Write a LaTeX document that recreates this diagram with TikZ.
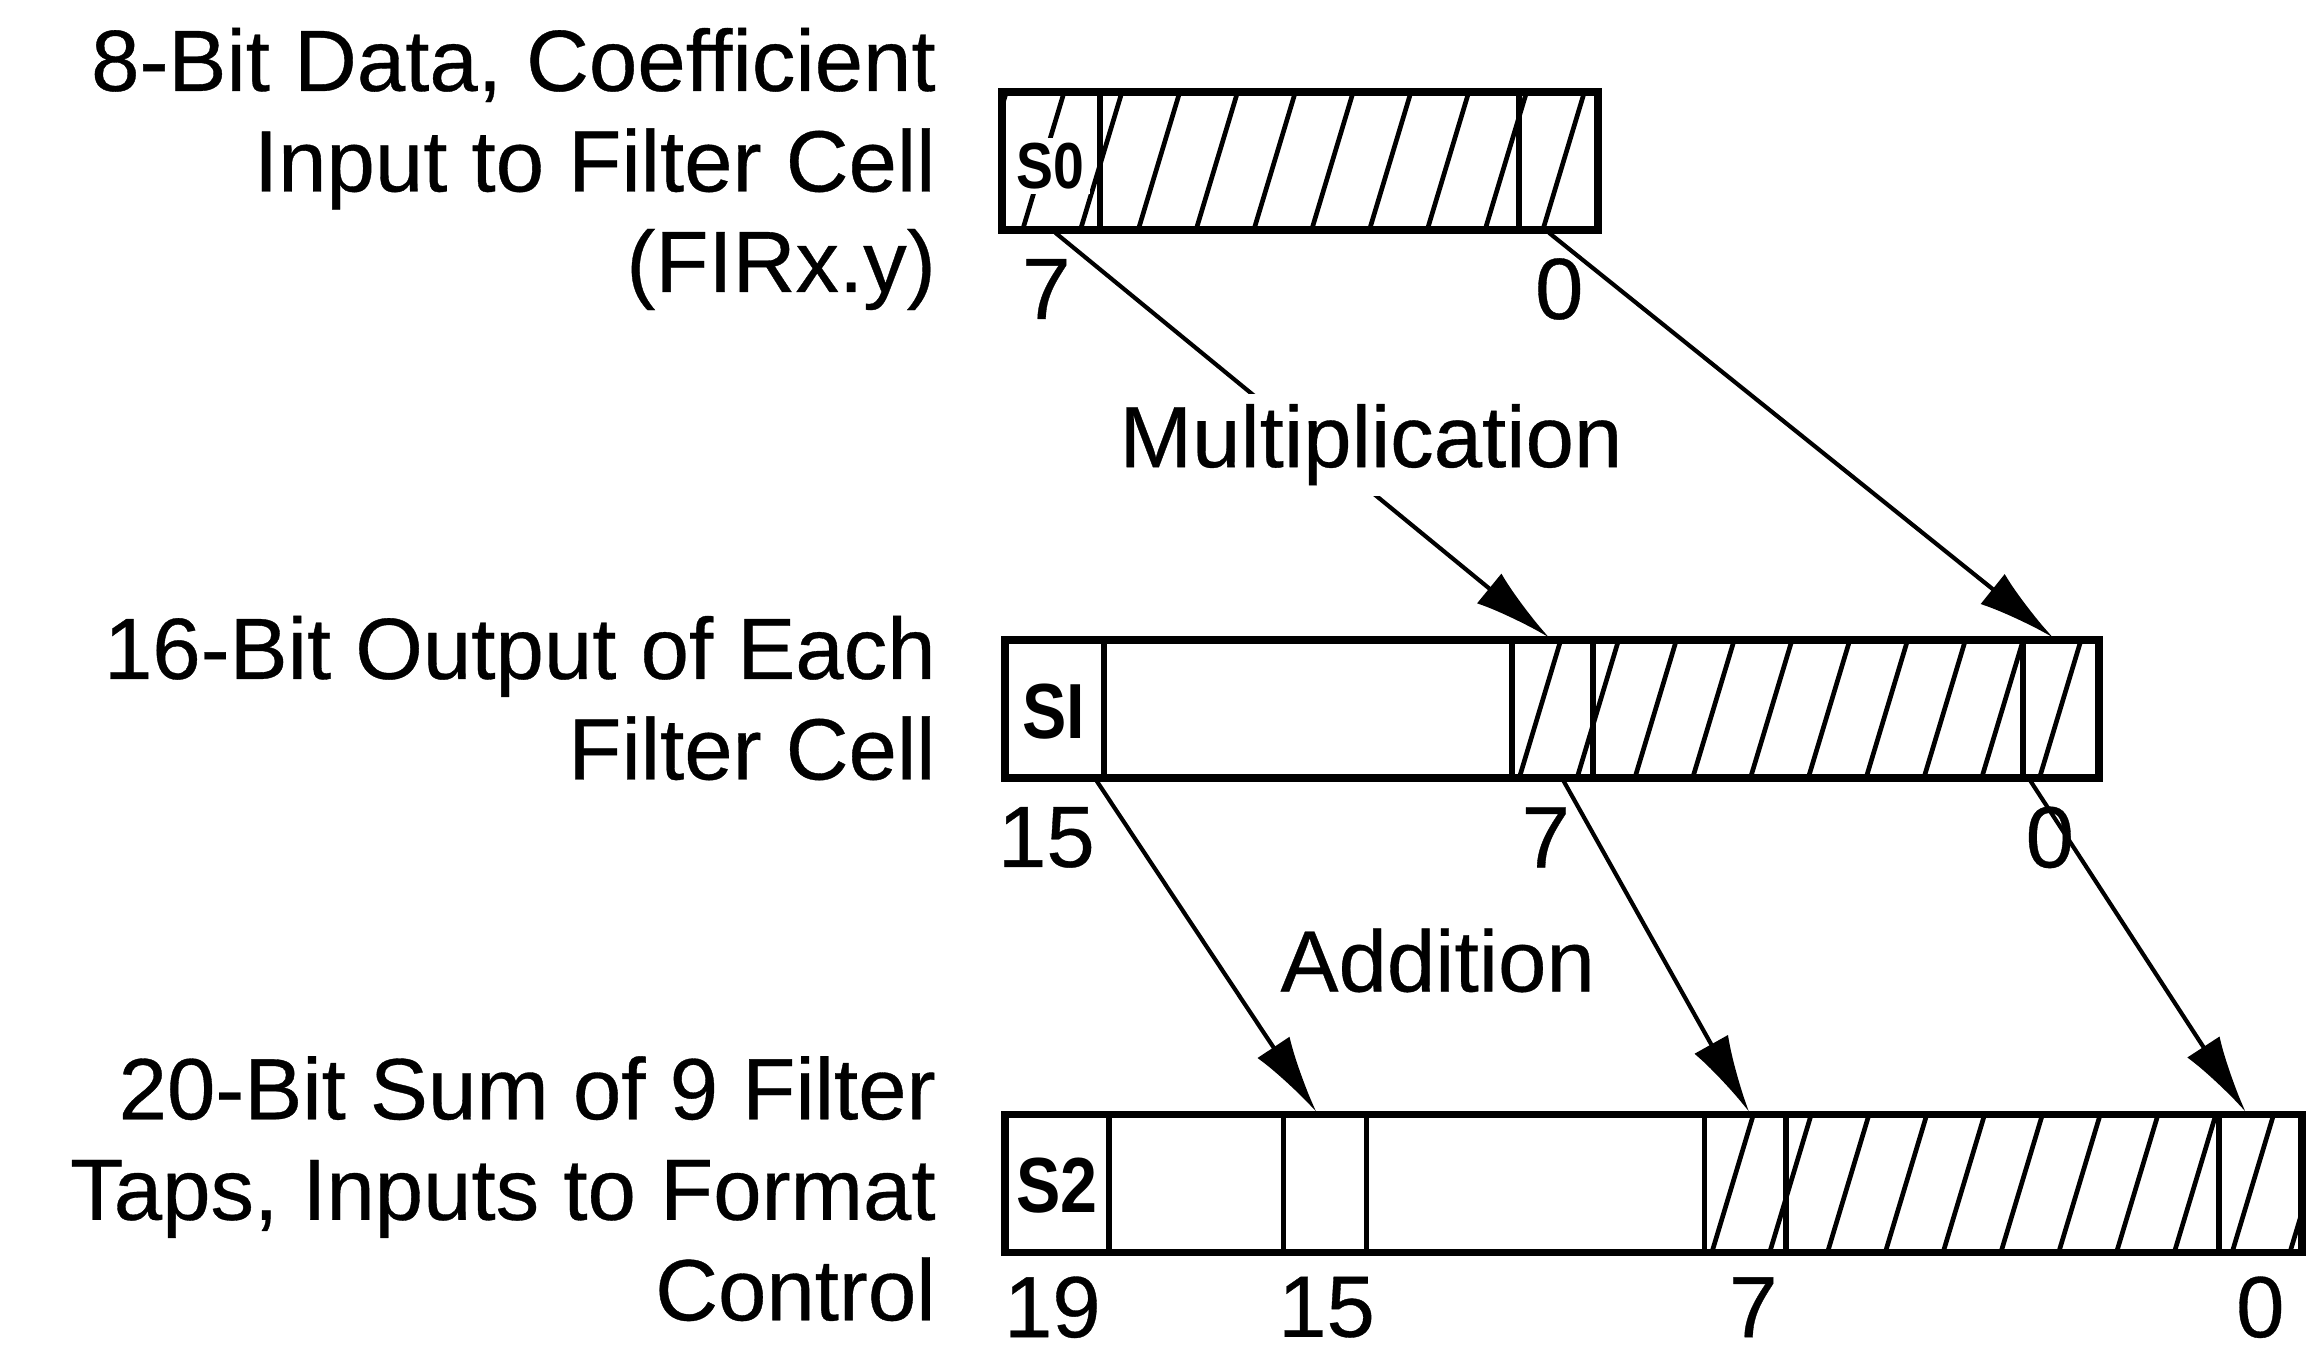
\documentclass[tikz,border=0pt]{standalone}
\usepackage{fontspec}
\setmainfont{Liberation Sans}[FakeBold=0.4]
\newfontfamily\sgnfont{Liberation Sans}[FakeStretch=0.85]
\usetikzlibrary{arrows.meta}
\tikzset{
  reg/.style={line width=1.5pt},
  cell/.style={line width=1.1pt},
  hatch/.style={line width=0.9pt},
  arr/.style={line width=0.8pt, -{Latex[length=5.2mm,width=2.6mm]}},
  lbl/.style={anchor=east, align=right, inner sep=0pt, font=\fontsize{16.7}{19.3}\selectfont},
  bitno/.style={inner sep=0pt, font=\fontsize{16.7}{19}\selectfont},
  sgn/.style={fill=white, inner sep=1pt, font=\sgnfont\bfseries\fontsize{15}{15}\selectfont},
  op/.style={fill=white, inner sep=2pt, font=\fontsize{16.7}{19}\selectfont},
}
\begin{document}
\begin{tikzpicture}[x=0.1mm, y=-0.1mm]
\useasboundingbox (0,0) rectangle (1568,911);
% texts on the left
\node[lbl] (inlbl) at (632,114) {8-Bit Data, Coefficient\\Input to Filter Cell\\(FIRx.y)};
\node[lbl] (outlbl) at (632,471) {16-Bit Output of Each\\Filter Cell};
\node[lbl] (sumlbl) at (632,802) {20-Bit Sum of 9 Filter\\Taps, Inputs to Format\\Control};
% 8-bit word
\begin{scope}
\clip (676,62) rectangle (1078,155);
\foreach \x in {651,690,...,1100} \draw[hatch] (\x,155) -- ++(28,-93);
\end{scope}
\draw[cell] (742,62) -- (742,155) (1025,62) -- (1025,155);
\draw[reg] (676,62) rectangle (1078,155);
\node[sgn, font=\sgnfont\bfseries\fontsize{12.5}{12.5}\selectfont] (s0) at (709,112) {S0};
\node[bitno] (a7) at (706,195) {7};
\node[bitno] (a0) at (1052,195) {0};
% 16-bit word
\begin{scope}
\clip (1020,432) rectangle (1416,525);
\foreach \x in {1025,1064,...,1450} \draw[hatch] (\x,525) -- ++(28,-93);
\end{scope}
\draw[cell] (745,432) -- (745,525) (1020,432) -- (1020,525)
  (1075,432) -- (1075,525) (1365,432) -- (1365,525);
\draw[reg] (678,432) rectangle (1416,525);
\node[sgn] (s1) at (711,480) {SI};
\node[bitno] (b15) at (706,565) {15};
\node[bitno] (b7) at (1043,565) {7};
\node[bitno] (b0) at (1383,565) {0};
% 20-bit word
\begin{scope}
\clip (1150,752) rectangle (1553,845);
\foreach \x in {1155,1194,...,1590} \draw[hatch] (\x,845) -- ++(28,-93);
\end{scope}
\draw[cell] (748,752) -- (748,845) (866,752) -- (866,845) (922,752) -- (922,845)
  (1150,752) -- (1150,845) (1205,752) -- (1205,845) (1497,752) -- (1497,845);
\draw[reg] (678,752) rectangle (1553,845);
\node[sgn] (s2) at (713,800) {S2};
\node[bitno] (c19) at (710,882) {19};
\node[bitno] (c15) at (895,882) {15};
\node[bitno] (c7) at (1183,882) {7};
\node[bitno] (c0) at (1525,882) {0};
% arrow ends
\coordinate (p7) at (712,157);
\coordinate (p0) at (1045,157);
\coordinate (q7in) at (1045,430);
\coordinate (q0in) at (1385,430);
\coordinate (q15) at (740,527);
\coordinate (q7) at (1055,527);
\coordinate (q0) at (1370,527);
\coordinate (r15in) at (888,750);
\coordinate (r7in) at (1180,750);
\coordinate (r0in) at (1515,750);
\draw[arr] (p7) -- (q7in);
\draw[arr] (p0) -- (q0in);
\draw[arr] (q15) -- (r15in);
\draw[arr] (q7) -- (r7in);
\draw[arr] (q0) -- (r0in);
\node[op] (mul) at (925,300) {Multiplication};
\node[op] (add) at (970,648) {Addition};
\end{tikzpicture}
\end{document}
